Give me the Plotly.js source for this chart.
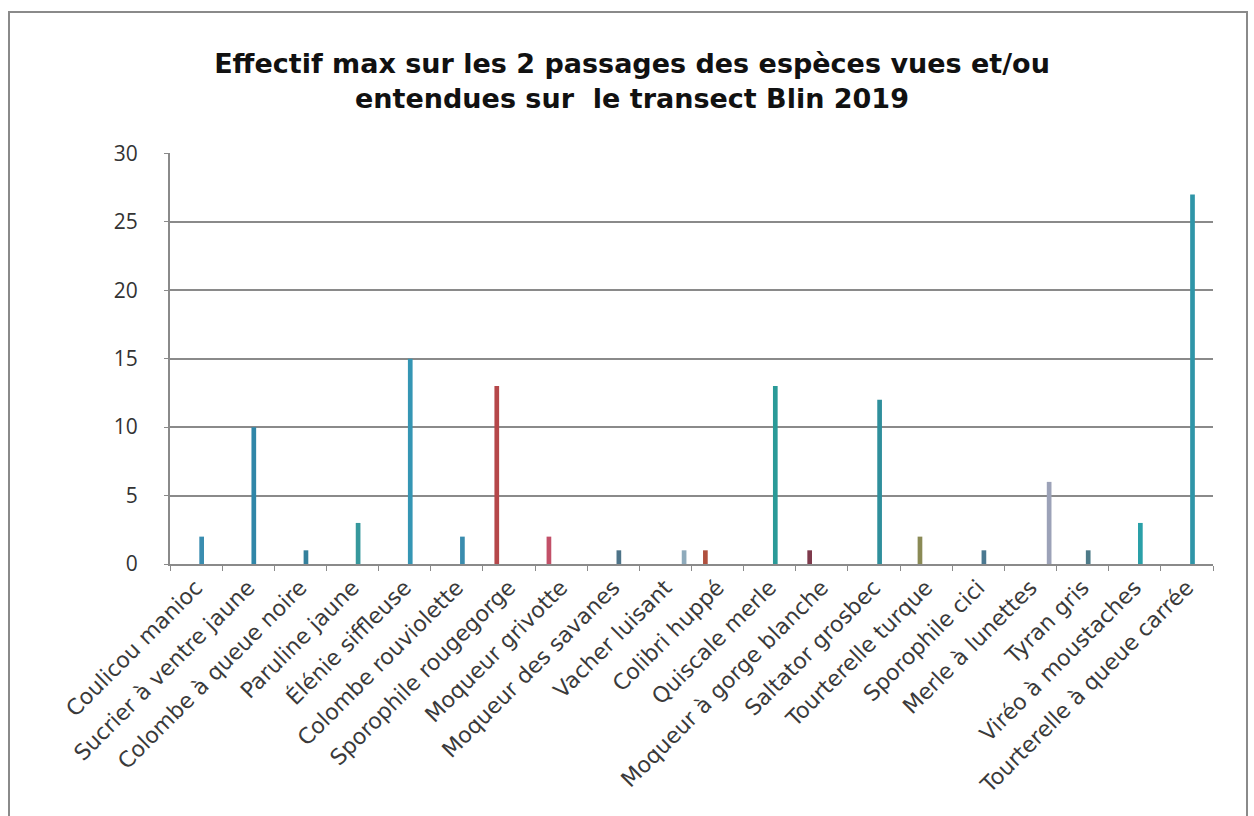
<!DOCTYPE html>
<html>
<head>
<meta charset="utf-8">
<script src="https://cdn.plot.ly/plotly-3.0.1.min.js"></script>
<style>html,body{margin:0;padding:0;background:#fff;}#chart{width:1254px;height:816px;}</style>
</head>
<body>
<div id="chart"></div>
<script>
const categories = [
  "Coulicou manioc", "Sucrier à ventre jaune", "Colombe à queue noire", "Paruline jaune",
  "Élénie siffleuse", "Colombe rouviolette", "Sporophile rougegorge", "Moqueur grivotte",
  "Moqueur des savanes", "Vacher luisant", "Colibri huppé", "Quiscale merle",
  "Moqueur à gorge blanche", "Saltator grosbec", "Tourterelle turque", "Sporophile cici",
  "Merle à lunettes", "Tyran gris", "Viréo à moustaches", "Tourterelle à queue carrée"
];
const serieBleue  = [2, 10, 1, 3, 15, 2, null, null, 1, null, null, 13, null, 12, null, 1, null, 1, 3, 27];
const serieRouge  = [null, null, null, null, null, null, 13, 2, null, null, 1, null, 1, null, null, null, null, null, null, null];
const serieOlive  = [null, null, null, null, null, null, null, null, null, null, null, null, null, null, 2, null, null, null, null, null];
const serieClaire = [null, null, null, null, null, null, null, null, null, 1, null, null, null, null, null, null, 6, null, null, null];
const yTicks = [0, 5, 10, 15, 20, 25, 30];

// styles
const colBleue = ['#3a8db0','#2f86a8','#33809c','#36989c','#3596b4','#3a8cae','#3a8cae','#3a8cae','#4d7388','#3a8cae','#3a8cae','#2a9a98','#3a8cae','#2f8f9c','#3a8cae','#4a7890','#3a8cae','#4d7a88','#2aa0a8','#2f95a8'];
const colRouge = categories.map((c,i)=> i===7 ? '#c25068' : i===10 ? '#b0503e' : i===12 ? '#7e3a4c' : '#b5474a');
const colClaire = categories.map((c,i)=> i===16 ? '#9ca2b8' : '#8eaabb');
const W = 0.09;
function bar(y, color, center){
  return {type:'bar', x:categories, y:y, width:W, offset:center - W/2,
          marker:{color:color, line:{width:0}}, hoverinfo:'x+y', showlegend:false};
}
const data = [
  bar(serieRouge, colRouge, -0.234),
  bar(serieOlive, '#8a8a55', -0.119),
  bar(serieBleue, colBleue, 0.107),
  bar(serieClaire, colClaire, 0.358)
];
const L = 170, R = 1213, T = 153, B = 564;
const pw = R - L, ph = B - T;
const layout = {
  width:1254, height:816,
  margin:{l:L, r:1254-R, t:T, b:816-B, pad:0},
  paper_bgcolor:'#ffffff', plot_bgcolor:'#ffffff',
  barmode:'overlay',
  title:{text:'Effectif max sur les 2 passages des espèces vues et/ou<br>entendues sur  le transect Blin 2019',
         font:{family:'DejaVu Sans', size:27, color:'#111', weight:'bold'},
         x:632/1254, xanchor:'center', xref:'container', y:1-73/816, yanchor:'middle', yref:'container'},
  xaxis:{type:'category', showgrid:false, showline:true, linecolor:'#8a8a8a', linewidth:2,
         ticks:'outside', tickson:'boundaries', ticklen:5, tickcolor:'#8a8a8a',
         tickangle:-45, tickfont:{family:'DejaVu Sans', size:22, color:'#3a3a3a'}, fixedrange:true},
  yaxis:{range:[0,30.03], tickvals:yTicks, ticktext:yTicks.map(String), showgrid:true, gridcolor:'#8a8a8a', gridwidth:2,
         showline:true, linecolor:'#8a8a8a', linewidth:2, ticks:'outside', ticklen:4, tickcolor:'#8a8a8a',
         ticklabelstandoff:22, zeroline:false,
         tickfont:{family:'Open Sans', size:21, color:'#333'}, fixedrange:true},
  shapes:[{type:'rect', xref:'paper', yref:'paper',
           x0:(9-L)/pw, x1:(1247-L)/pw, y0:(B-830)/ph, y1:(B-12)/ph,
           line:{color:'#8a8a8a', width:2}, fillcolor:'rgba(0,0,0,0)', layer:'below'}]
};
Plotly.newPlot('chart', data, layout, {displayModeBar:false, staticPlot:true});
</script>
</body>
</html>
